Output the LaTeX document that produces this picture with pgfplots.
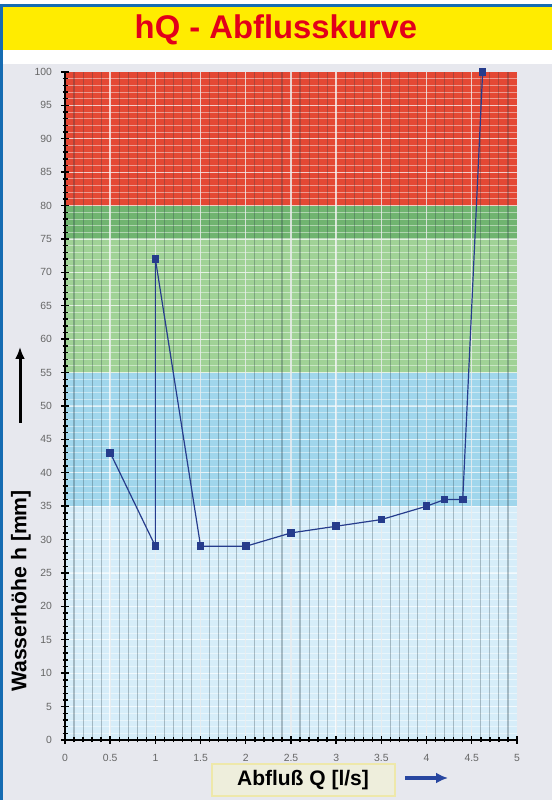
\documentclass[border=0pt]{standalone}
\usepackage{pgfplots}
\pgfplotsset{compat=1.18}
\usetikzlibrary{arrows.meta}
\usepackage{fontspec}
\setmainfont{Liberation Sans}
\definecolor{bg}{RGB}{231,232,238}
\definecolor{titleyellow}{RGB}{255,236,0}
\definecolor{titlered}{RGB}{226,0,26}
\definecolor{borderblue}{RGB}{22,108,178}
\definecolor{bandred}{RGB}{228,72,52}
\definecolor{banddkgreen}{RGB}{112,180,112}
\definecolor{bandltgreen}{RGB}{160,210,150}
\definecolor{bandblue}{RGB}{160,214,236}
\definecolor{bandltblue}{RGB}{214,237,249}
\definecolor{dataBlue}{RGB}{38,60,140}
\definecolor{arrowblue}{RGB}{40,70,160}
\definecolor{boxfill}{RGB}{238,238,220}
\definecolor{boxdraw}{RGB}{238,232,170}
\definecolor{gridDark}{RGB}{40,60,70}
\begin{document}
\begin{tikzpicture}
\fill[bg] (0pt,0pt) rectangle (276pt,400pt);
\fill[white] (0pt,368pt) rectangle (276pt,375pt);
\fill[titleyellow] (0pt,375pt) rectangle (276pt,396.5pt);
\fill[borderblue] (0pt,396.5pt) rectangle (276pt,398pt);
\fill[white] (0pt,398pt) rectangle (276pt,400pt);
\fill[borderblue] (0pt,0pt) rectangle (1.5pt,398pt);
\node[font=\bfseries\fontsize{16.4}{18}\selectfont, text=titlered] at (138pt,385pt) {hQ - Abflusskurve};
\begin{axis}[
  at={(32.5pt,30pt)}, anchor=south west, scale only axis,
  width=226pt, height=334pt,
  xmin=0, xmax=5, ymin=0, ymax=100,
  axis x line*=bottom, axis y line*=left,
  axis line style={black, line width=0.9pt},
  xtick={0,0.5,...,5}, ytick={0,5,...,100},
  minor x tick num=4, minor y tick num=4,
  tick align=center,
  major tick length=4pt, minor tick length=2.5pt,
  every tick/.style={black, line width=0.7pt},
  tick label style={font=\fontsize{5.2}{6}\selectfont, text=black!60},
  /pgf/number format/assume math mode=true,
  xticklabel style={yshift=-1.5pt},
  yticklabel style={xshift=-1pt},
  clip=false,
  axis on top,
]
% background bands
\fill[bandltblue] (axis cs:0,0) rectangle (axis cs:5,35);
\fill[bandblue] (axis cs:0,35) rectangle (axis cs:5,55);
\fill[bandltgreen] (axis cs:0,55) rectangle (axis cs:5,75);
\fill[banddkgreen] (axis cs:0,75) rectangle (axis cs:5,80);
\fill[bandred] (axis cs:0,80) rectangle (axis cs:5,100);
% graph-paper grid
\pgfplotsinvokeforeach{1,...,99}{
  \draw[white, opacity=0.45, line width=0.45pt] (axis cs:0,#1) -- (axis cs:5,#1);
}
\pgfplotsinvokeforeach{5,10,...,95}{
  \draw[white, opacity=0.5, line width=0.6pt] (axis cs:0,#1) -- (axis cs:5,#1);
}
\pgfplotsinvokeforeach{1,...,49}{
  \draw[gridDark, opacity=0.3, line width=0.55pt] (axis cs:0.1*#1,0) -- (axis cs:0.1*#1,100);
}
\pgfplotsinvokeforeach{1,...,9}{
  \draw[white, opacity=0.75, line width=0.7pt] (axis cs:0.5*#1,0) -- (axis cs:0.5*#1,100);
}
\addplot[color=dataBlue, line width=0.6pt, mark=square*, mark size=1.6pt, mark options={fill=dataBlue}]
  coordinates {(0.5,43) (1,29) (1,72) (1.5,29) (2,29) (2.5,31) (3,32) (3.5,33) (4,35) (4.2,36) (4.4,36) (4.62,100)};
\end{axis}
\node[rotate=90, font=\bfseries\fontsize{10.6}{12}\selectfont] at (10.5pt,104.5pt) {Wasserhöhe h [mm]};
\draw[black, line width=1.5pt, -{Latex[length=6pt,width=5pt]}] (10pt,188.5pt) -- (10pt,226.5pt);
\node[draw=boxdraw, fill=boxfill, line width=1pt, minimum width=91.5pt, minimum height=15pt, font=\bfseries\fontsize{10.5}{12}\selectfont] at (151.5pt,10pt) {Abfluß Q [l/s]};
\draw[arrowblue, line width=2pt, -{Latex[length=6pt,width=5.5pt]}] (202.5pt,11pt) -- (224pt,11pt);
\end{tikzpicture}
\end{document}
